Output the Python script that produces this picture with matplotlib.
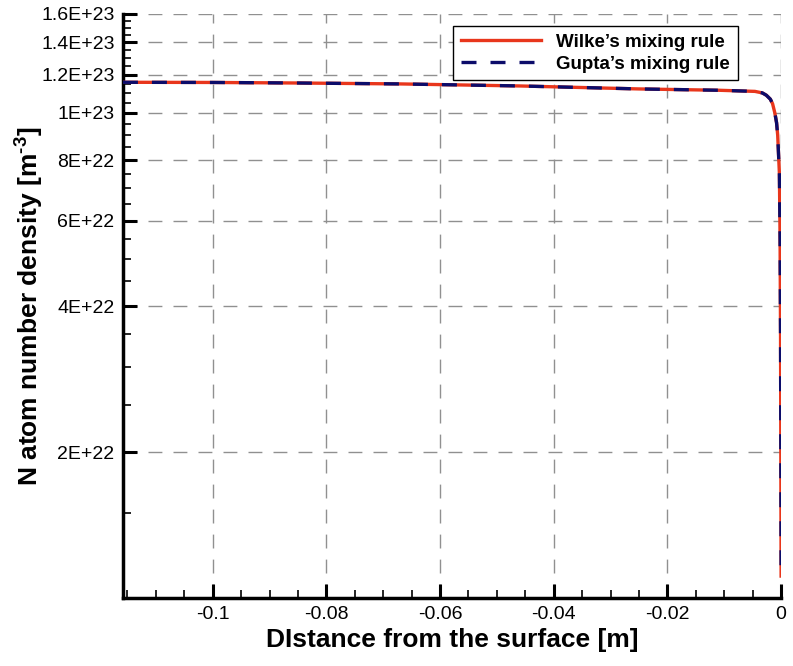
import matplotlib
matplotlib.use("Agg")
import matplotlib.pyplot as plt
from matplotlib.ticker import FixedLocator, FixedFormatter, MultipleLocator
import numpy as np

plt.rcParams["font.family"] = ["Liberation Sans", "DejaVu Sans"]
plt.rcParams["mathtext.fontset"] = "custom"
plt.rcParams["mathtext.rm"] = "Liberation Sans:bold"
plt.rcParams["mathtext.bf"] = "Liberation Sans:bold"

####################
# Data (read off)  #
####################
x_m = [-0.1158, -0.10, -0.085, -0.067, -0.046, -0.025, -0.011, -0.0046, -0.0033, -0.0026,
       -0.0019, -0.0015, -0.0011, -0.0008, -0.0006, -0.0003, -0.00018, -0.0001, -0.00005,
       -0.00002, 0.0]
n_wilke = [1.157e23, 1.156e23, 1.153e23, 1.148e23, 1.137e23, 1.121e23, 1.114e23, 1.108e23,
           1.100e23, 1.088e23, 1.068e23, 1.045e23, 1.0e23, 0.955e23, 0.90e23, 0.75e23,
           0.55e23, 0.35e23, 0.20e23, 0.14e23, 0.111e23]
n_gupta = list(n_wilke)

y_ticks = [2e22, 4e22, 6e22, 8e22, 1e23, 1.2e23, 1.4e23, 1.6e23]
y_tick_labels = ["2E+22", "4E+22", "6E+22", "8E+22", "1E+23", "1.2E+23", "1.4E+23", "1.6E+23"]
x_ticks = [-0.1, -0.08, -0.06, -0.04, -0.02, 0]
x_tick_labels = ["-0.1", "-0.08", "-0.06", "-0.04", "-0.02", "0"]

fig = plt.figure(figsize=(7.93, 6.66), dpi=100)
ax = fig.add_axes([0.155, 0.102, 0.830, 0.877])

ax.plot(x_m, n_wilke, color="#e8361c", lw=2.4, label="Wilke\u2019s mixing rule", zorder=3)
ax.plot(x_m, n_gupta, color="#0c0c6a", lw=2.4, ls=(0, (4.5, 4.2)), label="Gupta\u2019s mixing rule", zorder=4)

ax.set_yscale("log")
ax.set_xlim(-0.1158, 0)
ax.set_ylim(1e22, 1.6e23)

ax.yaxis.set_major_locator(FixedLocator(y_ticks))
ax.yaxis.set_major_formatter(FixedFormatter(y_tick_labels))
ax.yaxis.set_minor_locator(FixedLocator(np.arange(1.0e22, 1.6e23, 5e21)))
ax.yaxis.set_minor_formatter(FixedFormatter([]))
ax.xaxis.set_major_locator(FixedLocator(x_ticks))
ax.xaxis.set_major_formatter(FixedFormatter(x_tick_labels))
ax.xaxis.set_minor_locator(MultipleLocator(0.005))

ax.tick_params(which="major", direction="in", length=10, width=2.2, labelsize=14, pad=6)
ax.tick_params(which="minor", direction="in", length=6, width=1.2)
ax.tick_params(top=False, right=False, which="both")

for side in ["top", "right"]:
    ax.spines[side].set_visible(False)
for side in ["left", "bottom"]:
    ax.spines[side].set_linewidth(2.5)

ax.grid(True, which="major", color="#909090", lw=1.0, ls=(0, (10, 8)))
ax.set_axisbelow(True)

ax.set_xlabel("DIstance from the surface [m]", fontsize=19, fontweight="bold", labelpad=3)
ax.set_ylabel("N atom number density [m$^{\\text{-}3}$]", fontsize=19, fontweight="bold", labelpad=-2.5)

leg = ax.legend(loc="upper right", bbox_to_anchor=(0.948, 0.995), fancybox=False,
                framealpha=1, edgecolor="black", prop={"weight": "bold", "size": 13.5},
                handlelength=4.3, handletextpad=0.8, borderpad=0.4, labelspacing=0.25)
leg.get_frame().set_linewidth(1.0)

fig.savefig("out.png", dpi=100)
